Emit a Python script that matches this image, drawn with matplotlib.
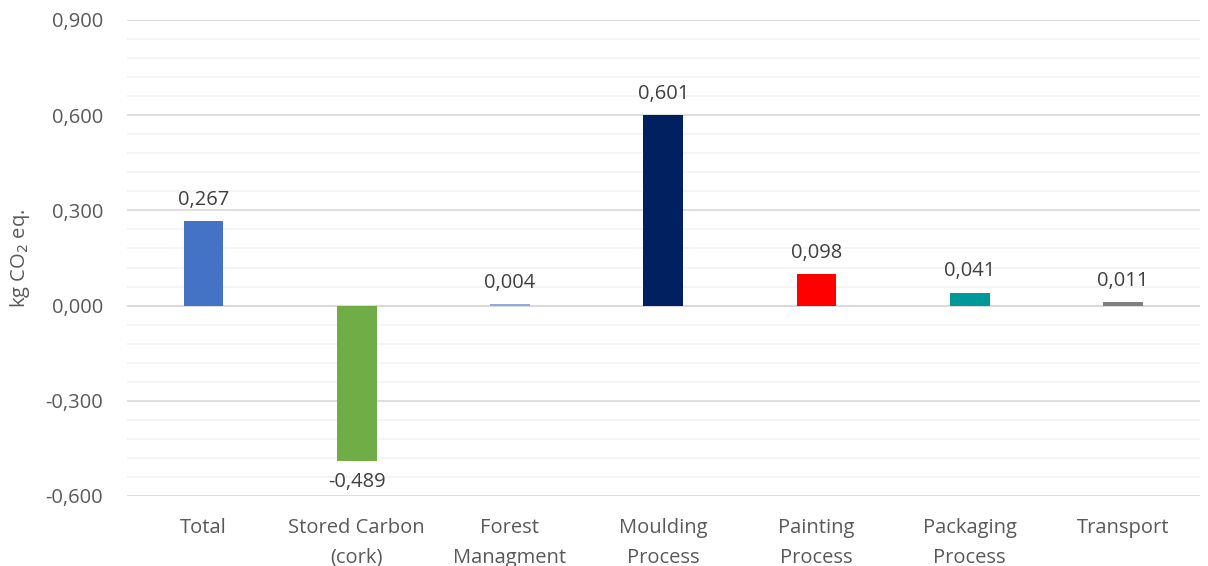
import matplotlib.pyplot as plt
from matplotlib.ticker import MultipleLocator, FuncFormatter

# data
categories = ["Total", "Stored Carbon\n(cork)", "Forest\nManagment", "Moulding\nProcess",
              "Painting\nProcess", "Packaging\nProcess", "Transport"]
values = [0.267, -0.489, 0.004, 0.601, 0.098, 0.041, 0.011]
colors = ["#4472C4", "#70AD47", "#8FAADC", "#002060", "#FF0000", "#009999", "#7F7F7F"]

plt.rcParams['font.family'] = ['Open Sans', 'DejaVu Sans']
txt = "#595959"
fs = 14.5

fig = plt.figure(figsize=(12.08, 5.66), dpi=100)
ax = fig.add_axes([0.105, 0.1237, 0.888, 0.841])

x = range(len(categories))
ax.bar(x, values, width=0.26, color=colors, zorder=3)

for i, v in enumerate(values):
    lbl = f"{v:.3f}".replace(".", ",")
    if v >= 0:
        ax.annotate(lbl, (i, v), xytext=(0, 8), textcoords="offset points",
                    ha="center", va="bottom", fontsize=fs, color="#404040")
    else:
        ax.annotate(lbl, (i, v), xytext=(0, -8), textcoords="offset points",
                    ha="center", va="top", fontsize=fs, color="#404040")

ax.set_ylim(-0.6, 0.9)
ax.set_xlim(-0.5, len(categories) - 0.5)
ax.yaxis.set_major_locator(MultipleLocator(0.3))
ax.yaxis.set_minor_locator(MultipleLocator(0.06))
ax.yaxis.set_major_formatter(FuncFormatter(lambda v, p: f"{v:.3f}".replace(".", ",")))
ax.grid(axis="y", which="major", color="#D9D9D9", linewidth=1.2, zorder=0)
ax.grid(axis="y", which="minor", color="#F2F2F2", linewidth=1.2, zorder=0)
ax.axhline(0, color="#D9D9D9", linewidth=1.2, zorder=1)

ax.set_xticks(list(x))
ax.set_xticklabels(categories, fontsize=fs, color=txt, linespacing=1.65)
ax.tick_params(axis="y", labelsize=fs, colors=txt, length=0, pad=17, which="both")
ax.tick_params(axis="x", length=0, pad=16)
for s in ax.spines.values():
    s.set_visible(False)

ax.set_ylabel("kg CO$_2$ eq.", fontsize=14.5, color=txt, labelpad=10)

fig.savefig("out.png", dpi=100)
